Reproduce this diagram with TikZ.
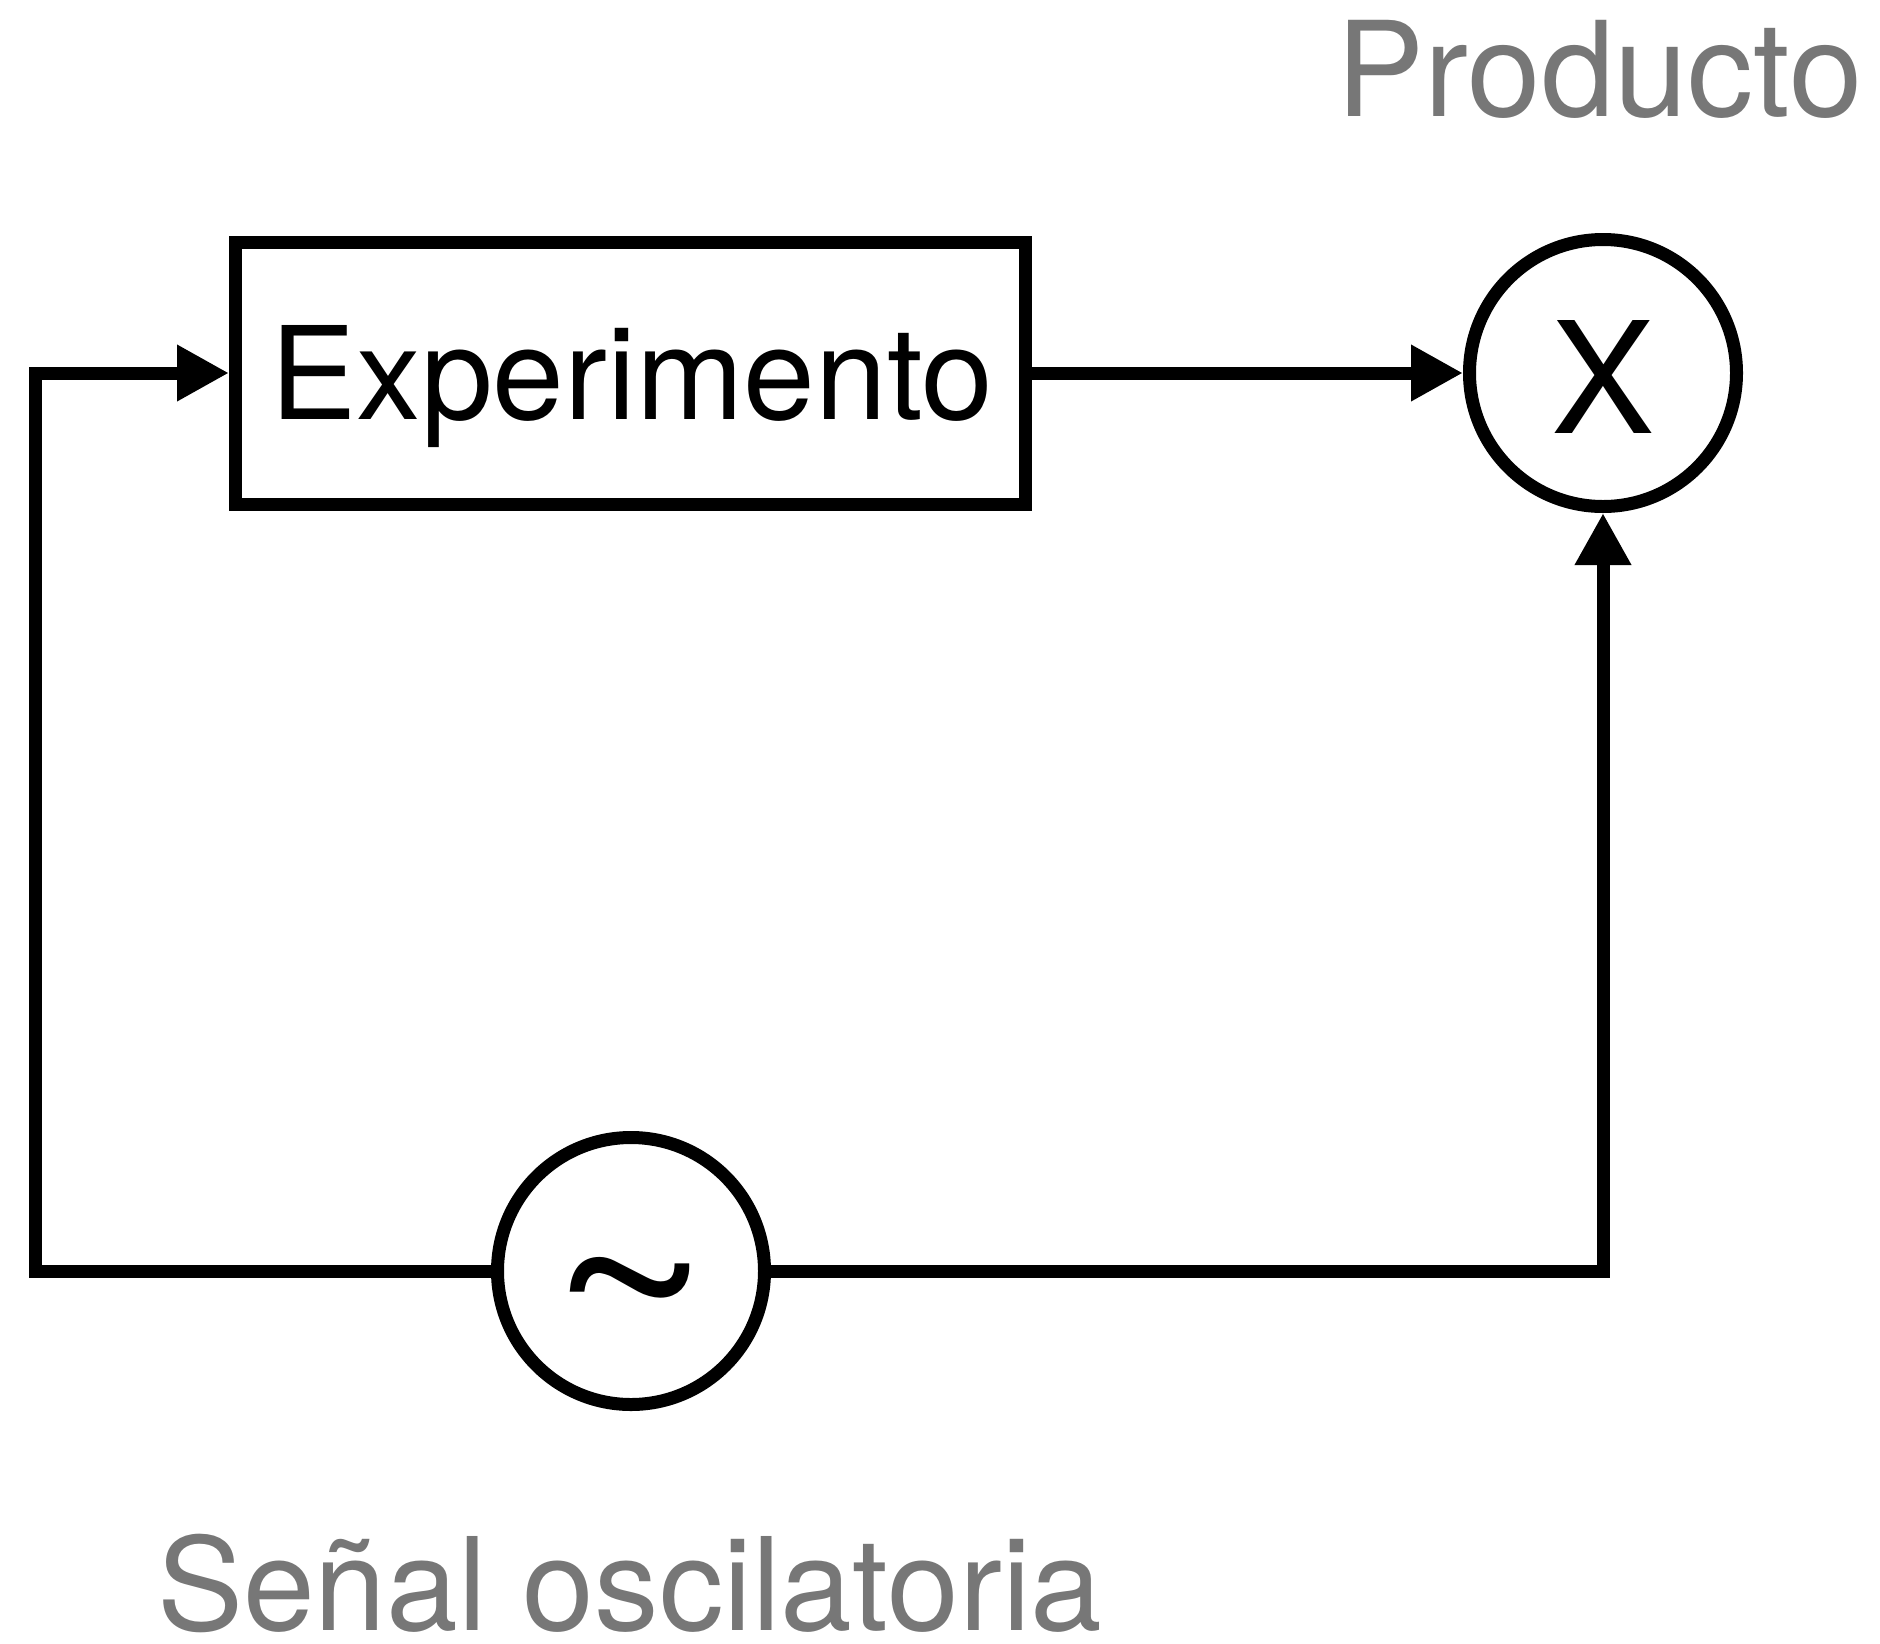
\documentclass[tikz,border=0pt]{standalone}
\usepackage{fontspec}
\setmainfont{TeX Gyre Heros}
\usetikzlibrary{arrows.meta}
\definecolor{labelgray}{RGB}{119,119,119}
\begin{document}
\begin{tikzpicture}[x=1pt,y=-1pt,
  wire/.style={line width=13pt},
  arr/.style={wire,-{Triangle[length=52pt,width=53pt]}},
  blockbox/.style={draw,line width=13pt,minimum width=789.5pt,minimum height=262pt,inner sep=0pt},
  ringnode/.style={draw,circle,line width=13pt,minimum size=267pt,inner sep=0pt},
  bigtext/.style={font=\fontsize{129}{129}\selectfont,inner sep=0pt},
  graytext/.style={bigtext,text=labelgray,text depth=0pt}]
\useasboundingbox (0,0) rectangle (1880,1644);
\node[blockbox] (exp) at (630.25,373) {};
\node[bigtext,anchor=base] (exptext) at (632,419) {Experimento};
\node[ringnode] (mult) at (1603,373) {};
\node[anchor=base,inner sep=0pt,font=\fontsize{155}{155}\selectfont] (multx) at (1603,433) {X};
\node[ringnode] (osc) at (631,1271) {};
\node[inner sep=0pt,anchor=base,font=\fontsize{200}{200}\selectfont] (tilde) at (630,1362) {\scalebox{1.38}[1.2]{\textasciitilde}};
\coordinate (bl) at (35.5,1271);
\coordinate (tl) at (35.5,373);
\coordinate (br) at (1603,1271);
\draw[arr] (osc.west) -- (bl) -- (tl) -- (exp.west);
\draw[arr] (exp.east) -- (mult.west);
\draw[arr] (osc.east) -- (br) -- (mult.south);
\node[graytext,anchor=base west,font=\fontsize{132}{132}\selectfont] (prod) at (1336,116) {Producto};
\node[graytext,anchor=base west] (senal) at (157,1630) {Señal oscilatoria};
\end{tikzpicture}
\end{document}
